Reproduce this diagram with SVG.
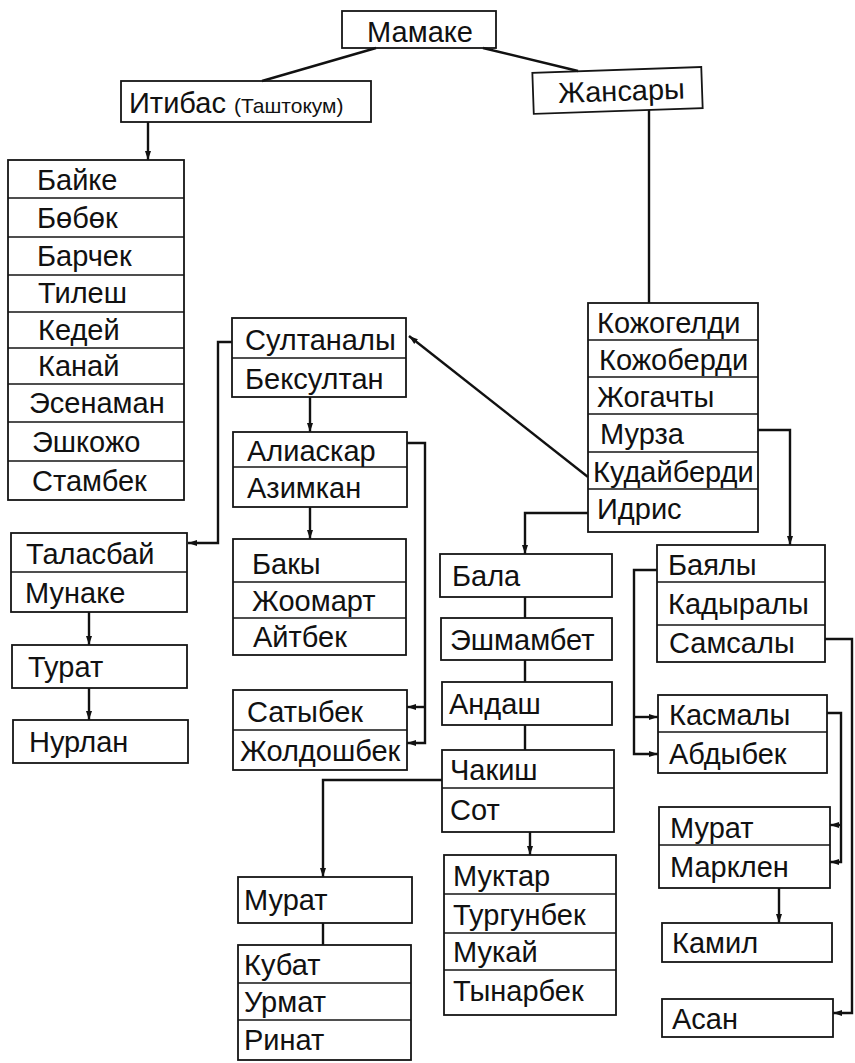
<svg xmlns="http://www.w3.org/2000/svg" width="855" height="1063" viewBox="0 0 855 1063">
<style>
rect{fill:none;stroke:#151515;stroke-width:1.8}
.dv{stroke:#151515;stroke-width:1.6}
text{font-family:"Liberation Sans",Arial,sans-serif;font-size:29px;fill:#111}
.sm{font-size:21px}
#connectors path,#connectors line{fill:none;stroke:#111;stroke-width:2.4}
</style>
<defs>
<marker id="ar" markerUnits="userSpaceOnUse" markerWidth="10" markerHeight="8" refX="9" refY="4" orient="auto">
<path d="M0,1 L9,4 L0,7 Z" fill="#111"/>
</marker>
</defs>
<rect x="0" y="0" width="855" height="1063" style="fill:#fff;stroke:none"/>

<g id="connectors">
<line x1="376" y1="48" x2="262" y2="81"/>
<line x1="483" y1="48" x2="578" y2="71"/>
<line x1="148" y1="122" x2="148" y2="160" marker-end="url(#ar)"/>
<line x1="649" y1="110" x2="649" y2="303"/>
<path d="M232,342 H218 V543 H188" marker-end="url(#ar)"/>
<line x1="588" y1="477" x2="409" y2="336" marker-end="url(#ar)"/>
<line x1="310" y1="397" x2="310" y2="432" marker-end="url(#ar)"/>
<line x1="310" y1="507" x2="310" y2="539" marker-end="url(#ar)"/>
<path d="M407,443 H425 V743 H407" marker-end="url(#ar)"/>
<path d="M425,707 H407" marker-end="url(#ar)"/>
<line x1="89" y1="612" x2="89" y2="645" marker-end="url(#ar)"/>
<line x1="89" y1="688" x2="89" y2="720" marker-end="url(#ar)"/>
<path d="M758,430 H790 V545" marker-end="url(#ar)"/>
<path d="M588,513 H525 V554" marker-end="url(#ar)"/>
<line x1="525" y1="597" x2="525" y2="618"/>
<line x1="525" y1="660" x2="525" y2="682"/>
<line x1="525" y1="725" x2="525" y2="750"/>
<path d="M442,780 H323 V877" marker-end="url(#ar)"/>
<line x1="530" y1="832" x2="530" y2="855" marker-end="url(#ar)"/>
<line x1="323" y1="923" x2="323" y2="945"/>
<path d="M657,570 H634 V754 H658" marker-end="url(#ar)"/>
<path d="M634,717 H658" marker-end="url(#ar)"/>
<path d="M825,639 H852 V1013 H833" marker-end="url(#ar)"/>
<path d="M827,713 H841 V862 H830" marker-end="url(#ar)"/>
<path d="M841,825 H830" marker-end="url(#ar)"/>
<line x1="779" y1="888" x2="779" y2="923" marker-end="url(#ar)"/>
</g>

<g id="mamake">
<rect x="342" y="11" width="154" height="37"/>
<text x="420" y="42" text-anchor="middle" font-size="27">Мамаке</text>
</g>

<g id="itibas">
<rect x="121" y="81" width="250" height="41"/>
<text x="129" y="113">Итибас <tspan class="sm">(Таштокум)</tspan></text>
</g>

<g id="zhansary" transform="rotate(-2 617 90)">
<rect x="533" y="70" width="169" height="41"/>
<text x="558" y="101">Жансары</text>
</g>

<g id="baike-list">
<rect x="8" y="160" width="176" height="340"/>
<line class="dv" x1="8" y1="198" x2="184" y2="198"/>
<line class="dv" x1="8" y1="237" x2="184" y2="237"/>
<line class="dv" x1="8" y1="275" x2="184" y2="275"/>
<line class="dv" x1="8" y1="312" x2="184" y2="312"/>
<line class="dv" x1="8" y1="348" x2="184" y2="348"/>
<line class="dv" x1="8" y1="384" x2="184" y2="384"/>
<line class="dv" x1="8" y1="422" x2="184" y2="422"/>
<line class="dv" x1="8" y1="461" x2="184" y2="461"/>
<text x="37" y="190">Байке</text>
<text x="37" y="228">Бөбөк</text>
<text x="37" y="266">Барчек</text>
<text x="38" y="303">Тилеш</text>
<text x="38" y="340">Кедей</text>
<text x="38" y="376">Канай</text>
<text x="29" y="413">Эсенаман</text>
<text x="32" y="452">Эшкожо</text>
<text x="32" y="491">Стамбек</text>
</g>

<g id="sultanaly">
<rect x="232" y="318" width="174" height="79"/>
<line class="dv" x1="232" y1="358" x2="406" y2="358"/>
<text x="245" y="350">Султаналы</text>
<text x="245" y="389">Бексултан</text>
</g>

<g id="aliaskar">
<rect x="233" y="432" width="174" height="75"/>
<line class="dv" x1="233" y1="467" x2="407" y2="467"/>
<text x="247" y="461">Алиаскар</text>
<text x="247" y="498">Азимкан</text>
</g>

<g id="baky">
<rect x="233" y="539" width="173" height="116"/>
<line class="dv" x1="233" y1="582" x2="406" y2="582"/>
<line class="dv" x1="233" y1="618" x2="406" y2="618"/>
<text x="252" y="574">Бакы</text>
<text x="252" y="611">Жоомарт</text>
<text x="253" y="647">Айтбек</text>
</g>

<g id="satybek">
<rect x="233" y="690" width="174" height="80"/>
<line class="dv" x1="233" y1="730" x2="407" y2="730"/>
<text x="247" y="722">Сатыбек</text>
<text x="240" y="761">Жолдошбек</text>
</g>

<g id="talasbai">
<rect x="11" y="533" width="176" height="79"/>
<line class="dv" x1="11" y1="572" x2="187" y2="572"/>
<text x="26" y="564">Таласбай</text>
<text x="25" y="603">Мунаке</text>
</g>

<g id="turat">
<rect x="12" y="645" width="175" height="43"/>
<text x="28" y="677">Турат</text>
</g>

<g id="nurlan">
<rect x="13" y="720" width="175" height="43"/>
<text x="29" y="752">Нурлан</text>
</g>

<g id="kozhogeldi">
<rect x="588" y="303" width="170" height="229"/>
<line class="dv" x1="588" y1="340" x2="758" y2="340"/>
<line class="dv" x1="588" y1="377" x2="758" y2="377"/>
<line class="dv" x1="588" y1="414" x2="758" y2="414"/>
<line class="dv" x1="588" y1="452" x2="758" y2="452"/>
<line class="dv" x1="588" y1="489" x2="758" y2="489"/>
<text x="597" y="333">Кожогелди</text>
<text x="599" y="370">Кожоберди</text>
<text x="597" y="407">Жогачты</text>
<text x="600" y="444">Мурза</text>
<text x="593" y="482">Кудайберди</text>
<text x="597" y="519">Идрис</text>
</g>

<g id="bala">
<rect x="440" y="554" width="172" height="43"/>
<text x="452" y="586">Бала</text>
</g>

<g id="eshmambet">
<rect x="441" y="618" width="171" height="42"/>
<text x="450" y="650">Эшмамбет</text>
</g>

<g id="andash">
<rect x="442" y="682" width="170" height="43"/>
<text x="449" y="714">Андаш</text>
</g>

<g id="chakish">
<rect x="442" y="750" width="172" height="82"/>
<line class="dv" x1="442" y1="788" x2="614" y2="788"/>
<text x="450" y="780">Чакиш</text>
<text x="450" y="820">Сот</text>
</g>

<g id="bayaly">
<rect x="657" y="545" width="168" height="117"/>
<line class="dv" x1="657" y1="582" x2="825" y2="582"/>
<line class="dv" x1="657" y1="625" x2="825" y2="625"/>
<text x="668" y="575">Баялы</text>
<text x="668" y="614">Кадыралы</text>
<text x="669" y="653">Самсалы</text>
</g>

<g id="kasmaly">
<rect x="658" y="695" width="169" height="78"/>
<line class="dv" x1="658" y1="732" x2="827" y2="732"/>
<text x="669" y="725">Касмалы</text>
<text x="669" y="764">Абдыбек</text>
</g>

<g id="murat-right">
<rect x="659" y="807" width="171" height="81"/>
<line class="dv" x1="659" y1="845" x2="830" y2="845"/>
<text x="670" y="838">Мурат</text>
<text x="670" y="877">Марклен</text>
</g>

<g id="kamil">
<rect x="662" y="923" width="170" height="39"/>
<text x="672" y="953">Камил</text>
</g>

<g id="asan">
<rect x="662" y="999" width="171" height="38"/>
<text x="672" y="1029">Асан</text>
</g>

<g id="murat-left">
<rect x="238" y="877" width="174" height="46"/>
<text x="244" y="910">Мурат</text>
</g>

<g id="kubat">
<rect x="238" y="945" width="173" height="115"/>
<line class="dv" x1="238" y1="983" x2="411" y2="983"/>
<line class="dv" x1="238" y1="1020" x2="411" y2="1020"/>
<text x="244" y="975">Кубат</text>
<text x="244" y="1012">Урмат</text>
<text x="244" y="1050">Ринат</text>
</g>

<g id="muktar">
<rect x="444" y="855" width="172" height="160"/>
<line class="dv" x1="444" y1="894" x2="616" y2="894"/>
<line class="dv" x1="444" y1="933" x2="616" y2="933"/>
<line class="dv" x1="444" y1="970" x2="616" y2="970"/>
<text x="453" y="886">Муктар</text>
<text x="453" y="925">Тургунбек</text>
<text x="453" y="962">Мукай</text>
<text x="453" y="1001">Тынарбек</text>
</g>
</svg>
